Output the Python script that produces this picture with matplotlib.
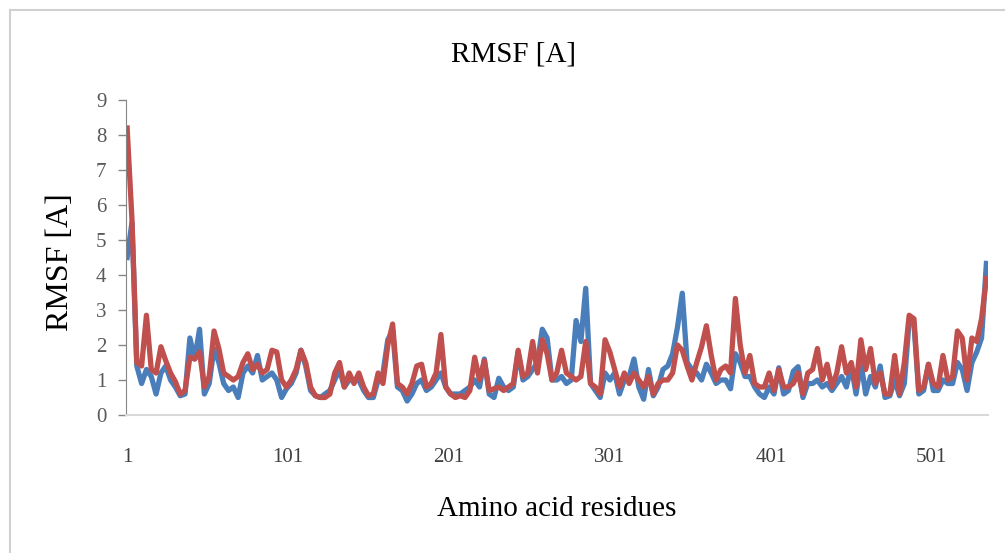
import numpy as np
import matplotlib.pyplot as plt
from matplotlib.lines import Line2D

# residue numbers (every third residue)
residues = np.arange(1, 536, 3)

rmsf_red = [
    8.2, 5.6, 1.5, 1.4, 2.85, 1.3, 1.2, 1.95, 1.55, 1.2,
    0.95, 0.6, 0.7, 1.65, 1.6, 1.8, 0.8, 1.1, 2.4, 1.9,
    1.2, 1.1, 1.0, 1.1, 1.5, 1.75, 1.3, 1.45, 1.2, 1.3,
    1.85, 1.8, 1.0, 0.8, 1.0, 1.3, 1.85, 1.5, 0.8, 0.55,
    0.5, 0.5, 0.6, 1.2, 1.5, 0.8, 1.2, 0.9, 1.2, 0.8,
    0.55, 0.6, 1.2, 0.9, 2.0, 2.6, 0.9, 0.8, 0.6, 0.9,
    1.4, 1.45, 0.8, 0.9, 1.2, 2.3, 0.8, 0.6, 0.5, 0.55,
    0.5, 0.7, 1.65, 1.0, 1.55, 0.7, 0.75, 0.8, 0.7, 0.8,
    0.9, 1.85, 1.1, 1.2, 2.1, 1.2, 2.15, 1.75, 1.0, 1.2,
    1.85, 1.2, 1.1, 1.0, 1.1, 2.1, 0.9, 0.8, 0.6, 2.15,
    1.8, 1.3, 0.8, 1.2, 0.9, 1.2, 1.0, 0.8, 1.1, 0.6,
    0.9, 1.0, 1.0, 1.2, 2.0, 1.85, 1.4, 1.0, 1.5, 1.95,
    2.55, 1.7, 1.0, 1.3, 1.4, 1.2, 3.33, 2.0, 1.2, 1.7,
    0.9, 0.8, 0.8, 1.2, 0.7, 1.3, 0.8, 0.8, 0.9, 1.2,
    0.6, 1.2, 1.3, 1.9, 1.0, 1.45, 0.8, 1.2, 1.95, 1.2,
    1.5, 0.8, 2.15, 1.3, 1.9, 0.9, 1.2, 0.6, 0.6, 1.7,
    0.6, 1.5, 2.85, 2.75, 0.7, 0.8, 1.45, 0.9, 0.8, 1.7,
    1.0, 1.1, 2.4, 2.2, 1.0, 2.2, 2.1, 2.75, 3.9,
]

rmsf_blue = [
    4.5, 5.5, 1.4, 0.9, 1.3, 1.1, 0.6, 1.2, 1.4, 1.0,
    0.8, 0.55, 0.6, 2.2, 1.6, 2.45, 0.6, 0.9, 1.9, 1.5,
    0.9, 0.7, 0.8, 0.5, 1.2, 1.4, 1.2, 1.7, 1.0, 1.1,
    1.2, 1.0, 0.5, 0.75, 0.9, 1.2, 1.85, 1.4, 0.7, 0.55,
    0.5, 0.6, 0.7, 1.0, 1.3, 0.8, 1.0, 1.0, 1.0, 0.7,
    0.5, 0.5, 1.0, 1.2, 2.15, 2.4, 0.8, 0.7, 0.4, 0.6,
    0.9, 1.0, 0.7, 0.8, 1.0, 1.2, 0.8, 0.6, 0.6, 0.6,
    0.7, 0.8, 1.0, 0.8, 1.6, 0.6, 0.5, 1.05, 0.8, 0.7,
    0.8, 1.8, 1.0, 1.1, 1.3, 1.5, 2.45, 2.2, 1.0, 1.0,
    1.1, 0.9, 1.0, 2.7, 2.1, 3.62, 0.9, 0.7, 0.5, 1.2,
    1.0, 1.2, 0.6, 1.0, 1.1, 1.6, 0.8, 0.45, 1.3, 0.55,
    0.8, 1.3, 1.4, 1.75, 2.5, 3.48, 1.5, 1.3, 1.2, 1.0,
    1.45, 1.2, 0.9, 1.0, 1.0, 0.75, 1.75, 1.5, 1.1, 1.1,
    0.8, 0.6, 0.5, 0.8, 0.6, 1.35, 0.6, 0.7, 1.25, 1.38,
    0.5, 0.9, 0.9, 1.0, 0.8, 0.9, 0.7, 0.9, 1.1, 0.8,
    1.4, 0.6, 1.5, 0.6, 1.1, 0.8, 1.4, 0.5, 0.55, 1.0,
    0.55, 0.9, 2.7, 2.6, 0.6, 0.7, 1.45, 0.7, 0.7, 1.0,
    0.9, 0.9, 1.5, 1.3, 0.7, 1.5, 1.8, 2.2, 4.33,
]

x_ticks = [1, 101, 201, 301, 401, 501]
y_ticks = list(range(0, 10))

plt.rcParams['font.family'] = ['Liberation Serif', 'DejaVu Serif']

W, H = 1005, 553
fig = plt.figure(figsize=(W / 100, H / 100), dpi=100)
ax = fig.add_axes([126 / W, 138 / H, (988 - 126) / W, 315 / H])

ax.plot(residues, rmsf_blue, color='#4a7ebb', lw=3.8, solid_joinstyle='round')
ax.plot(residues, rmsf_red, color='#c0504d', lw=3.8, solid_joinstyle='round')

ax.set_xlim(0.3, 536)
ax.set_ylim(0, 9)
ax.set_xticks(x_ticks)
ax.set_xticklabels([str(t) for t in x_ticks])
ax.set_yticks(y_ticks)
ax.tick_params(axis='x', length=0, pad=24, labelsize=15, labelcolor='#404040')
ax.tick_params(axis='y', length=6, width=1, color='#868686', pad=8,
               labelsize=15, labelcolor='#595959')

for side in ['top', 'right']:
    ax.spines[side].set_visible(False)
ax.spines['left'].set_color('#868686')
ax.spines['bottom'].set_color('#d9d9d9')
ax.spines['bottom'].set_linewidth(1.5)

fig.text(513 / W, 1 - 54 / H, 'RMSF [A]', ha='center', va='center', fontsize=21, color='black')
fig.text(61 / W, 1 - 262 / H, 'RMSF [A]', ha='center', va='center', rotation=90,
         fontsize=23, color='black')
fig.text(557 / W, 1 - 509 / H, 'Amino acid residues', ha='center', va='center',
         fontsize=21, color='black')

# chart area border (only left and top edges are visible in the crop)
fig.add_artist(Line2D([10 / W, 10 / W], [0, 1 - 10 / H], transform=fig.transFigure,
                      color='#d0d0d0', lw=1.5))
fig.add_artist(Line2D([10 / W, 1], [1 - 10 / H, 1 - 10 / H], transform=fig.transFigure,
                      color='#d0d0d0', lw=1.5))

fig.savefig('out.png', dpi=100)
plt.close()
